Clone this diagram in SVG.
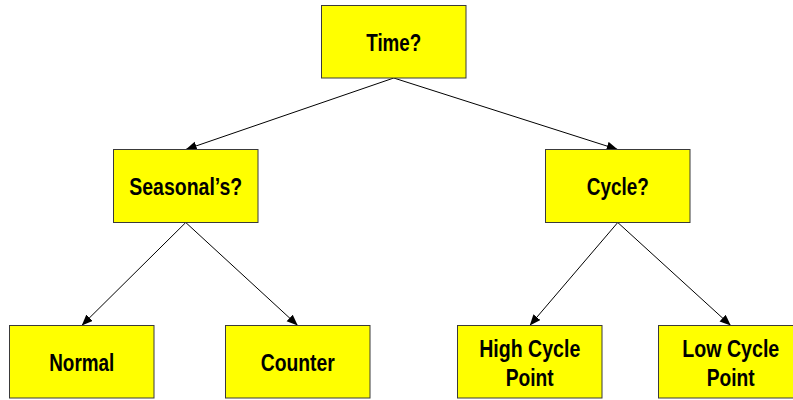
<svg xmlns="http://www.w3.org/2000/svg" width="793" height="400" viewBox="0 0 793 400">
<defs>
<style>
.box{fill:#ffff00;stroke:#3a3a3a;stroke-width:1}
.lbl{font-family:"Liberation Sans Narrow","Liberation Sans",Arial,sans-serif;font-size:24px;font-weight:bold;fill:#000;text-anchor:middle}
.edge{stroke:#000;stroke-width:1;fill:none;marker-end:url(#arr)}
</style>
<marker id="arr" markerUnits="userSpaceOnUse" markerWidth="12" markerHeight="10" refX="11" refY="4.5" orient="auto">
<path d="M0,0 L11,4.5 L0,9 Z" fill="#000"/>
</marker>
</defs>
<rect width="793" height="400" fill="#fff"/>
<g id="connectors">
<line class="edge" x1="393.75" y1="78" x2="185.75" y2="149.5"/>
<line class="edge" x1="393.75" y1="78" x2="617.75" y2="149.5"/>
<line class="edge" x1="185.75" y1="222.5" x2="81.75" y2="325.5"/>
<line class="edge" x1="185.75" y1="222.5" x2="297.75" y2="325.5"/>
<line class="edge" x1="617.75" y1="222.5" x2="529.75" y2="325.5"/>
<line class="edge" x1="617.75" y1="222.5" x2="730.75" y2="325.5"/>
</g>
<g id="time">
<rect class="box" x="321.5" y="5.5" width="144.5" height="72.5"/>
<text class="lbl" x="393.75" y="50.5" textLength="55" lengthAdjust="spacingAndGlyphs">Time?</text>
</g>
<g id="seasonals">
<rect class="box" x="113.5" y="149.5" width="144.5" height="73"/>
<text class="lbl" x="185.75" y="195" textLength="113" lengthAdjust="spacingAndGlyphs">Seasonal’s?</text>
</g>
<g id="cycle">
<rect class="box" x="545.5" y="149.5" width="144.5" height="73"/>
<text class="lbl" x="617.75" y="195" textLength="62" lengthAdjust="spacingAndGlyphs">Cycle?</text>
</g>
<g id="normal">
<rect class="box" x="9.5" y="325.5" width="144.5" height="72.5"/>
<text class="lbl" x="81.75" y="370.7" textLength="65" lengthAdjust="spacingAndGlyphs">Normal</text>
</g>
<g id="counter">
<rect class="box" x="225.5" y="325.5" width="144.5" height="72.5"/>
<text class="lbl" x="297.75" y="370.7" textLength="74" lengthAdjust="spacingAndGlyphs">Counter</text>
</g>
<g id="high-cycle-point">
<rect class="box" x="457.5" y="325.5" width="144.5" height="72.5"/>
<text class="lbl" x="529.75" y="356.7" textLength="101" lengthAdjust="spacingAndGlyphs">High Cycle</text>
<text class="lbl" x="529.75" y="386" textLength="48" lengthAdjust="spacingAndGlyphs">Point</text>
</g>
<g id="low-cycle-point">
<rect class="box" x="658.5" y="325.5" width="135.5" height="72.5"/>
<text class="lbl" x="730.75" y="356.7" textLength="97" lengthAdjust="spacingAndGlyphs">Low Cycle</text>
<text class="lbl" x="730.75" y="386" textLength="48" lengthAdjust="spacingAndGlyphs">Point</text>
</g>
</svg>
